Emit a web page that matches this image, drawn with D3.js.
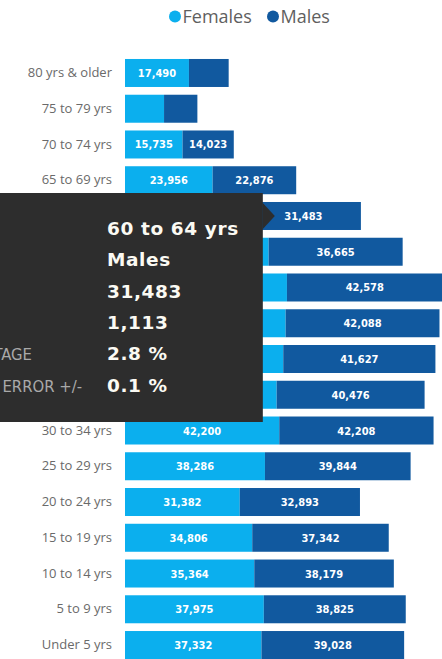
<!DOCTYPE html>
<html>
<head>
<meta charset="utf-8">
<script src="https://cdn.jsdelivr.net/npm/d3@7"></script>
<style>
  html, body { margin: 0; padding: 0; background: #ffffff; overflow: hidden; }
  #chart { width: 442px; height: 659px; }
</style>
</head>
<body>
<div id="chart"></div>
<script>
// age groups, top to bottom
var ageGroups = ["80 yrs & older", "75 to 79 yrs", "70 to 74 yrs", "65 to 69 yrs",
    "60 to 64 yrs", "55 to 59 yrs", "50 to 54 yrs", "45 to 49 yrs", "40 to 44 yrs",
    "35 to 39 yrs", "30 to 34 yrs", "25 to 29 yrs", "20 to 24 yrs", "15 to 19 yrs",
    "10 to 14 yrs", "5 to 9 yrs", "Under 5 yrs"];

var females = [17490, 10680, 15735, 23956, 33050, 39290, 44300, 43940, 43290,
    41480, 42200, 38286, 31382, 34806, 35364, 37975, 37332];

var males = [10870, 9120, 14023, 22876, 31483, 36665, 42578, 42088, 41627,
    40476, 42208, 39844, 32893, 37342, 38179, 38825, 39028];

var seriesNames = ["Females", "Males"];

// tooltip shown over the 60 to 64 yrs / Males bar
var tipValues = ["60 to 64 yrs", "Males", "31,483", "1,113", "2.8 %", "0.1 %"];
var tipLabels = ["", "", "", "", "PERCENTAGE", "MARGIN OF ERROR +/-"];

var width = 442, height = 659;
var femaleColor = "#0bafee";
var maleColor = "#11599f";
var fmt = d3.format(",");

var svg = d3.select("#chart").append("svg")
    .attr("width", width)
    .attr("height", height);

var x = d3.scaleLinear()
    .domain([0, 90000])
    .range([125, 454]);

var y = d3.scaleBand()
    .domain(ageGroups)
    .range([55.1, 662.9])
    .paddingInner(0.217)
    .paddingOuter(0.1085);

var rows = ageGroups.map(function (g, i) {
    return {group: g, Females: females[i], Males: males[i]};
});

var stack = d3.stack().keys(seriesNames);
var layers = stack(rows);

var color = d3.scaleOrdinal()
    .domain(seriesNames)
    .range([femaleColor, maleColor]);

// legend
var legend = svg.append("g").attr("class", "legend");
var legendX = [175, 273];
seriesNames.forEach(function (name, i) {
    legend.append("circle")
        .attr("cx", legendX[i])
        .attr("cy", 16.5)
        .attr("r", 6)
        .style("fill", color(name));
    legend.append("text")
        .attr("x", legendX[i] + 7.5)
        .attr("y", 23)
        .text(name)
        .style("font-family", "'Open Sans', sans-serif")
        .style("font-size", "18px")
        .style("fill", "#5f5f5f");
});

// y axis labels
var yAxis = d3.axisLeft(y).tickSize(0).tickPadding(0);
var gy = svg.append("g")
    .attr("class", "y axis")
    .attr("transform", "translate(112,0)")
    .call(yAxis);
gy.select(".domain").remove();
gy.selectAll("text")
    .style("font-family", "'Open Sans', sans-serif")
    .style("font-size", "13px")
    .style("fill", "#6a6a6a");

// bars
var layer = svg.selectAll(".layer")
    .data(layers)
    .enter()
    .append("g")
    .attr("class", "layer")
    .style("fill", function (d) { return color(d.key); });

layer.selectAll("rect")
    .data(function (d) { return d; })
    .enter()
    .append("rect")
    .attr("y", function (d) { return y(d.data.group); })
    .attr("height", y.bandwidth())
    .attr("x", function (d) { return x(d[0]); })
    .attr("width", function (d) { return x(d[1]) - x(d[0]); });

// value labels, only where the segment is wide enough
layer.selectAll("text")
    .data(function (d) { return d; })
    .enter()
    .filter(function (d) { return x(d[1]) - x(d[0]) > 45; })
    .append("text")
    .attr("x", function (d) { return (x(d[0]) + x(d[1])) / 2; })
    .attr("y", function (d) { return y(d.data.group) + y.bandwidth() / 2 + 4; })
    .attr("text-anchor", "middle")
    .text(function (d) { return fmt(d[1] - d[0]); })
    .style("font-family", "'DejaVu Sans Condensed', sans-serif")
    .style("font-weight", "bold")
    .style("font-size", "11px")
    .style("fill", "#ffffff");

// tooltip
var tipRow = 4;
var tipY = y(ageGroups[tipRow]);
var tipRight = x(females[tipRow]) + 17;
var tip = svg.append("g").attr("class", "tooltip");
tip.append("rect")
    .attr("x", -10)
    .attr("y", 193)
    .attr("width", tipRight + 10)
    .attr("height", 229)
    .style("fill", "#2d2d2d");
tip.append("path")
    .attr("d", "M" + tipRight + "," + (tipY + 1) +
        "L" + (tipRight + 12) + "," + (tipY + y.bandwidth() / 2) +
        "L" + tipRight + "," + (tipY + y.bandwidth() - 1) + "Z")
    .style("fill", "#2d2d2d");

tipValues.forEach(function (v, i) {
    tip.append("text")
        .attr("x", 107)
        .attr("y", 235 + i * 31.3)
        .text(v)
        .style("font-family", "'DejaVu Sans', sans-serif")
        .style("font-weight", "bold")
        .style("font-size", "18.5px")
        .style("letter-spacing", "0.6px")
        .style("fill", "#fbfaf3");
    if (tipLabels[i] !== "") {
        tip.append("text")
            .attr("x", i === 5 ? 82 : 32)
            .attr("y", 235 + i * 31.3)
            .attr("text-anchor", "end")
            .text(tipLabels[i])
            .style("font-family", "'DejaVu Sans Condensed', sans-serif")
            .style("font-size", "16.5px")
            .style("fill", "#a9a9a9");
    }
});
</script>
</body>
</html>
